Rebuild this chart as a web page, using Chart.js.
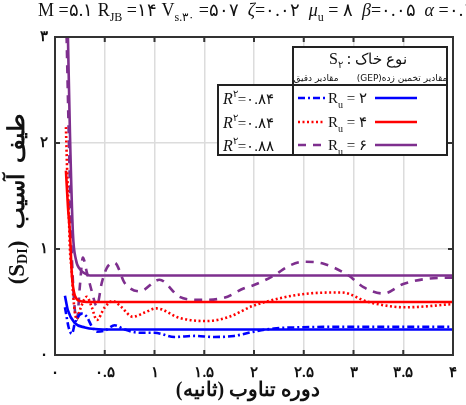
<!DOCTYPE html>
<html>
<head>
<meta charset="utf-8">
<script src="https://cdn.jsdelivr.net/npm/chart.js@4.4.1/dist/chart.umd.min.js"></script>
<style>
html,body{margin:0;padding:0;background:#fff;overflow:hidden;}
#wrap{position:relative;width:466px;height:405px;}
</style>
</head>
<body>
<div id="wrap"><canvas id="c" width="466" height="405"></canvas></div>
<script>
// ---- data ----
const xTickLabels = ['۰','۰.۵','۱','۱.۵','۲','۲.۵','۳','۳.۵','۴'];
const yTickLabels = ['۰','۱','۲','۳'];

// Ru = 2 (blue)
const xBlueExact = [0.10,0.14,0.17,0.20,0.27,0.32,0.37,0.42,0.50,0.60,0.70,0.85,1.00,1.20,1.40,1.60,1.80,2.00,2.20,2.40,2.70,3.00,3.50,4.00];
const yBlueExact = [0.45,0.25,0.20,0.30,0.39,0.36,0.27,0.22,0.23,0.28,0.24,0.21,0.21,0.17,0.18,0.17,0.18,0.22,0.25,0.26,0.265,0.265,0.265,0.265];
const xBlueGEP = [0.10,0.13,0.20,0.30,0.40,0.60,1.00,2.00,3.00,4.00];
const yBlueGEP = [0.56,0.42,0.30,0.26,0.245,0.24,0.24,0.24,0.24,0.24];

// Ru = 4 (red)
const xRedExact = [0.11,0.12,0.14,0.15,0.17,0.18,0.20,0.22,0.26,0.32,0.37,0.42,0.50,0.58,0.67,0.78,0.90,1.02,1.25,1.52,1.75,1.98,2.28,2.55,2.88,3.15,3.52,4.00];
const yRedExact = [2.15,1.80,1.30,1.00,0.77,0.60,0.40,0.34,0.45,0.55,0.45,0.33,0.45,0.51,0.45,0.36,0.40,0.44,0.35,0.32,0.36,0.46,0.54,0.58,0.59,0.50,0.45,0.48];
const xRedGEP = [0.11,0.13,0.15,0.17,0.20,0.25,0.35,1.00,2.00,3.00,4.00];
const yRedGEP = [1.74,1.40,1.15,0.75,0.56,0.51,0.50,0.50,0.50,0.50,0.50];

// Ru = 6 (purple)
const xPurpleExact = [0.11,0.14,0.16,0.18,0.20,0.22,0.25,0.28,0.32,0.37,0.42,0.47,0.52,0.60,0.70,0.85,1.05,1.25,1.45,1.70,1.90,2.00,2.20,2.35,2.50,2.70,2.95,3.10,3.30,3.50,3.75,4.00];
const yPurpleExact = [3.30,2.00,1.20,0.70,0.42,0.33,0.65,0.92,0.78,0.60,0.46,0.68,0.82,0.87,0.68,0.60,0.71,0.55,0.52,0.54,0.63,0.66,0.75,0.84,0.88,0.86,0.75,0.64,0.58,0.67,0.72,0.73];
const xPurpleGEP = [0.13,0.15,0.18,0.21,0.25,0.30,0.35,1.00,2.00,3.00,4.00];
const yPurpleGEP = [3.00,2.10,1.15,0.90,0.81,0.77,0.75,0.75,0.75,0.75,0.75];

const seriesLabels = ['R_u = ۲','R_u = ۴','R_u = ۶'];
const r2Labels = ['=۰.۸۴','=۰.۸۴','=۰.۸۸'];

const BLUE='#0000FF', RED='#FF0000', PURPLE='#7E2F8E';
const dashBlue=[7,3,2,3], dashRed=[2,2.5], dashPurple=[8,7];

function pts(xs, ys){ return xs.map((x,i)=>({x:x,y:ys[i]})); }
function ds(label, xs, ys, color, dash, w){
  return {label:label, data:pts(xs,ys), borderColor:color, backgroundColor:color,
    borderWidth:w, borderDash:dash, pointRadius:0, fill:false, cubicInterpolationMode:'monotone', showLine:true};
}

const datasets = [
  ds('exact2', xBlueExact, yBlueExact, BLUE, dashBlue, 2.6),
  ds('gep2', xBlueGEP, yBlueGEP, BLUE, [], 2.6),
  ds('exact4', xRedExact, yRedExact, RED, dashRed, 2.6),
  ds('gep4', xRedGEP, yRedGEP, RED, [], 2.6),
  ds('exact6', xPurpleExact, yPurpleExact, PURPLE, dashPurple, 2.6),
  ds('gep6', xPurpleGEP, yPurpleGEP, PURPLE, [], 2.6),
];

function drawRuns(ctx, x, y, runs){
  let cx = x;
  for(const r of runs){
    ctx.font = r.f;
    ctx.fillText(r.t, cx, y + (r.dy||0));
    cx += ctx.measureText(r.t).width;
  }
  return cx;
}
function runsWidth(ctx, runs){
  let w=0; for(const r of runs){ctx.font=r.f; w+=ctx.measureText(r.t).width;} return w;
}

const SERIF = '"Liberation Serif", "DejaVu Serif", serif';
const decor = {
  id:'decor',
  afterDraw(chart){
    const ctx = chart.ctx, a = chart.chartArea;
    const xs = chart.scales.x, ys = chart.scales.y;
    ctx.save();
    // frame
    ctx.strokeStyle = '#333'; ctx.lineWidth = 2; ctx.setLineDash([]);
    ctx.strokeRect(a.left, a.top, a.right-a.left, a.bottom-a.top);
    // inward ticks
    ctx.lineWidth = 2;
    for(let i=0;i<xTickLabels.length;i++){
      const px = xs.getPixelForValue(i*0.5);
      ctx.beginPath(); ctx.moveTo(px,a.bottom); ctx.lineTo(px,a.bottom-5);
      ctx.moveTo(px,a.top); ctx.lineTo(px,a.top+5); ctx.stroke();
    }
    for(let i=0;i<yTickLabels.length;i++){
      const py = ys.getPixelForValue(i);
      ctx.beginPath(); ctx.moveTo(a.left,py); ctx.lineTo(a.left+5,py);
      ctx.moveTo(a.right,py); ctx.lineTo(a.right-5,py); ctx.stroke();
    }
    // title
    ctx.fillStyle = '#111'; ctx.textBaseline = 'alphabetic'; ctx.textAlign='left';
    const F = '18px '+SERIF, FS = '12px '+SERIF, FI = 'italic 18px '+SERIF;
    drawRuns(ctx, 38, 16, [
      {t:'M =۵.۱ R',f:F},{t:'JB',f:FS,dy:5},{t:' =۱۴ V',f:F},{t:'s.۳۰',f:FS,dy:5},
      {t:' =۵۰۷  ',f:F},{t:'ζ',f:FI},{t:'=۰.۰۲  ',f:F},{t:'μ',f:FI},{t:'u',f:FS,dy:5},
      {t:' = ۸  ',f:F},{t:'β',f:FI},{t:'=۰.۰۵  ',f:F},{t:'α',f:FI},{t:' =۰.۱',f:F}
    ]);
    // y axis title (rotated)
    ctx.save();
    ctx.translate(18, 199);
    ctx.rotate(-Math.PI/2);
    const YB = 'bold 23px '+SERIF, YS = 'bold 14px '+SERIF;
    const yRuns = [{t:'(S',f:YB},{t:'DI',f:YS,dy:5},{t:')  ',f:YB},{t:'طیف  آسیب',f:YB}];
    const yw = runsWidth(ctx,yRuns);
    ctx.textBaseline='middle';
    drawRuns(ctx, -yw/2, 0, yRuns);
    ctx.restore();
    // x axis title
    ctx.font = 'bold 20px '+SERIF; ctx.textAlign='center'; ctx.textBaseline='middle';
    ctx.direction='rtl';
    ctx.fillText('دوره تناوب (ثانیه)', 248, 391);
    ctx.direction='ltr';
    ctx.textAlign='left'; ctx.textBaseline='alphabetic';

    // legend
    const L = {x1:218, x2:293, x3:447, top:47, mid:85, bot:155};
    ctx.fillStyle='#fff';
    ctx.fillRect(L.x2, L.top, L.x3-L.x2, L.bot-L.top);
    ctx.fillRect(L.x1, L.mid, L.x2-L.x1, L.bot-L.mid);
    ctx.strokeStyle='#222'; ctx.lineWidth=2;
    ctx.strokeRect(L.x2, L.top, L.x3-L.x2, L.bot-L.top);
    ctx.strokeRect(L.x1, L.mid, L.x2-L.x1, L.bot-L.mid);
    ctx.beginPath(); ctx.moveTo(L.x2,L.mid); ctx.lineTo(L.x3,L.mid); ctx.stroke();
    ctx.fillStyle='#111';
    const HF='16px '+SERIF, HS='10px '+SERIF;
    const hRuns=[{t:'S',f:HF},{t:'۲',f:HS,dy:4},{t:' : ',f:HF},{t:'نوع خاک',f:'15px '+SERIF}];
    const hw = runsWidth(ctx,hRuns);
    drawRuns(ctx, 368-hw/2, 64, hRuns);
    ctx.font='9px "DejaVu Sans", sans-serif'; ctx.textAlign='center';
    ctx.direction='rtl';
    ctx.fillText('مقادیر تخمین زده(GEP)', 402, 81);
    ctx.fillText('مقادیر دقیق', 316, 81);
    ctx.direction='ltr';
    ctx.textAlign='left';
    const rowsY=[98,122,145];
    const cols=[BLUE,RED,PURPLE], dashes=[dashBlue,dashRed,dashPurple];
    for(let i=0;i<3;i++){
      const y=rowsY[i];
      ctx.strokeStyle=cols[i]; ctx.lineWidth=2.6;
      ctx.setLineDash(dashes[i]);
      ctx.beginPath(); ctx.moveTo(298,y); ctx.lineTo(325,y); ctx.stroke();
      ctx.setLineDash([]);
      ctx.beginPath(); ctx.moveTo(375,y); ctx.lineTo(417,y); ctx.stroke();
      ctx.fillStyle='#111';
      const parts = seriesLabels[i].split('_');
      const rest = parts[1].split(' ');
      drawRuns(ctx, 328, y+5, [{t:parts[0],f:'15px '+SERIF},{t:rest[0],f:'10px '+SERIF,dy:5},{t:' '+rest.slice(1).join(' '),f:'15px '+SERIF}]);
      drawRuns(ctx, 223, y+6, [{t:'R',f:'italic 16px '+SERIF},{t:'۲',f:'10px '+SERIF,dy:-7},{t:r2Labels[i],f:'15px '+SERIF}]);
    }
    ctx.restore();
  }
};

new Chart(document.getElementById('c'), {
  type:'scatter',
  data:{datasets:datasets},
  options:{
    responsive:false, animation:false, devicePixelRatio:1,
    layout:{padding:{top:37,right:11,left:0,bottom:0}},
    plugins:{legend:{display:false}, tooltip:{enabled:false}, title:{display:false}},
    scales:{
      x:{type:'linear', min:0, max:4,
        afterFit(s){ s.height = 50; },
        ticks:{stepSize:0.5, autoSkip:false, maxRotation:0, padding:9, color:'#111',
          font:{family:SERIF, size:15, weight:'bold'},
          callback:(v)=>xTickLabels[Math.round(v*2)]},
        grid:{color:'#dcdcdc', lineWidth:1.5, drawTicks:false},
        border:{display:false}
      },
      y:{type:'linear', min:0, max:3,
        afterFit(s){ s.width = 55; },
        ticks:{stepSize:1, color:'#111', padding:7,
          font:{family:SERIF, size:15, weight:'bold'},
          callback:(v)=>yTickLabels[Math.round(v)]},
        grid:{color:'#dcdcdc', lineWidth:1.5, drawTicks:false},
        border:{display:false}
      }
    }
  },
  plugins:[decor]
});
</script>
</body>
</html>
